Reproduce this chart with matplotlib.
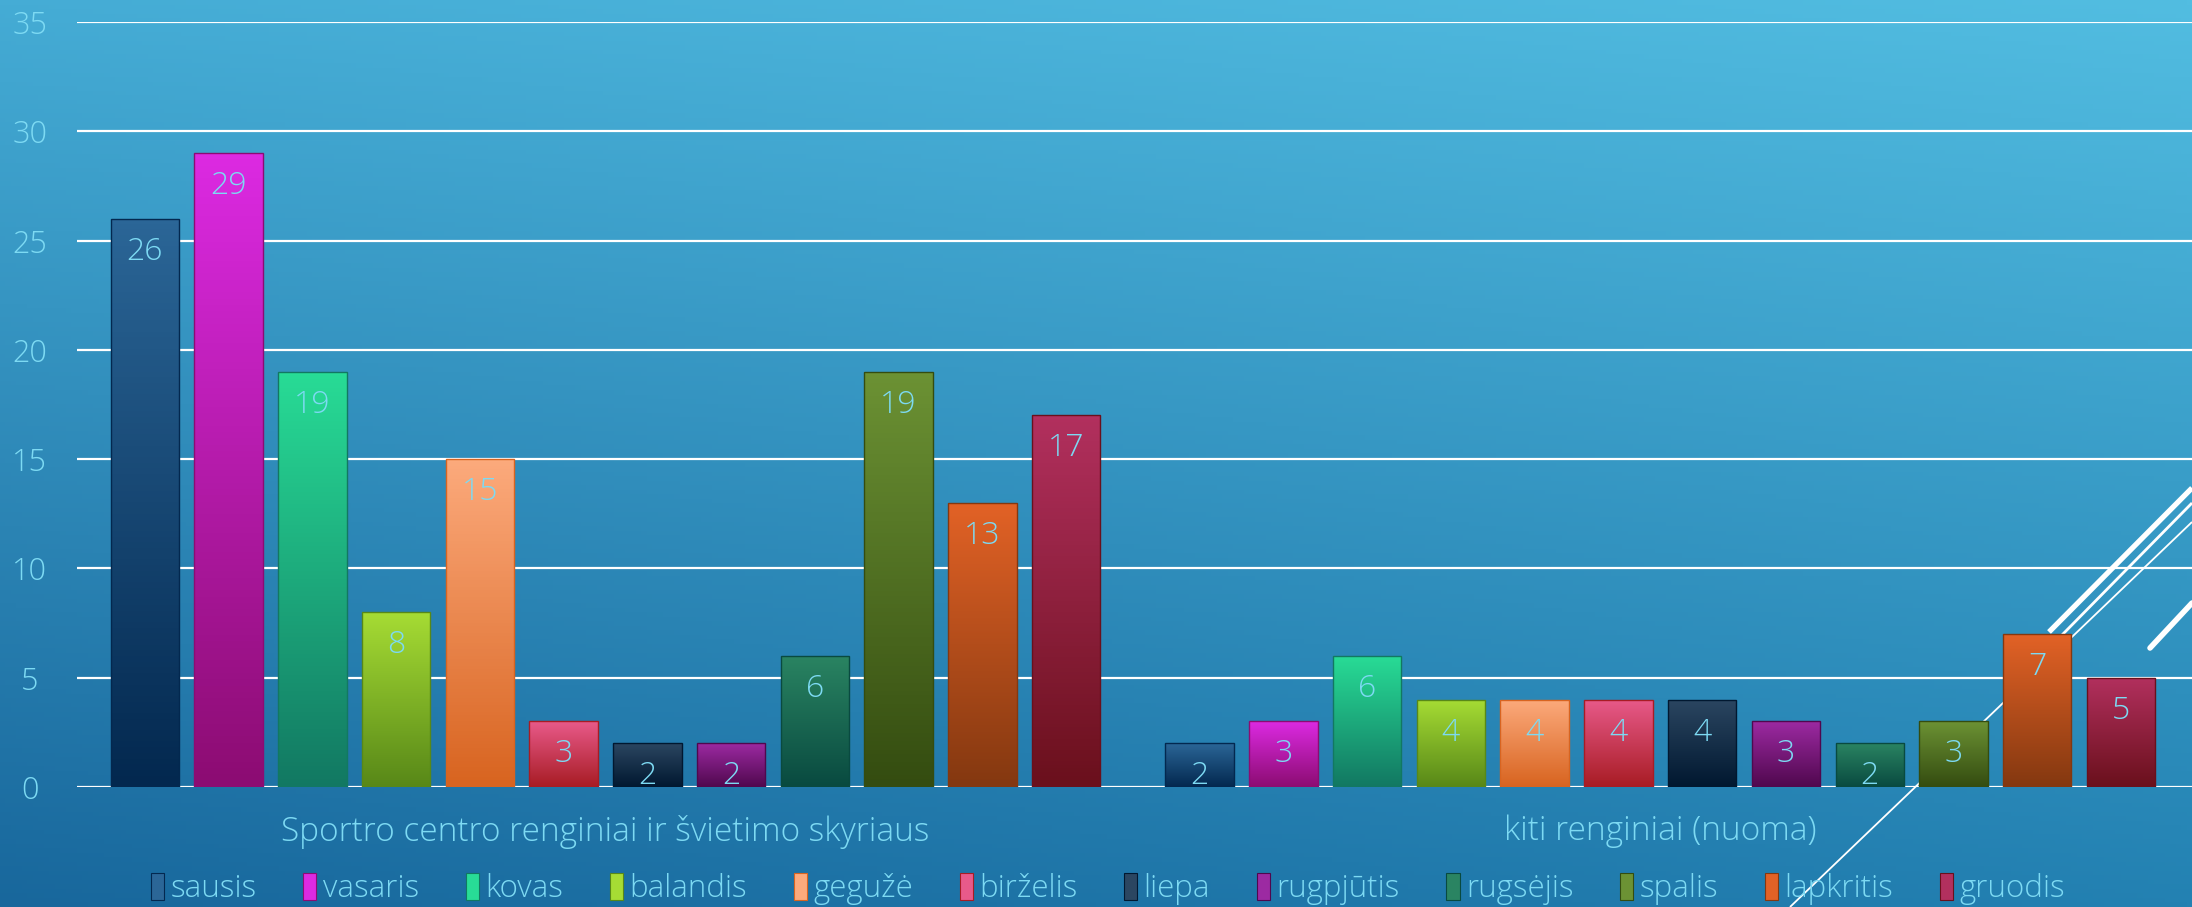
import numpy as np
import matplotlib
matplotlib.use('Agg')
import matplotlib.pyplot as plt
from matplotlib.colors import to_rgb
from matplotlib.patches import Patch

# duomenys
groups = ['Sportro centro renginiai ir švietimo skyriaus', 'kiti renginiai (nuoma)']
months = ['sausis', 'vasaris', 'kovas', 'balandis', 'gegužė', 'birželis',
          'liepa', 'rugpjūtis', 'rugsėjis', 'spalis', 'lapkritis', 'gruodis']
sportas = [26, 29, 19, 8, 15, 3, 2, 2, 6, 19, 13, 17]
nuoma = [2, 3, 6, 4, 4, 4, 4, 3, 2, 3, 7, 5]
y_ticks = [0, 5, 10, 15, 20, 25, 30, 35]

top_colors = ['#2b6697', '#dc2ae2', '#28dc96', '#a6dc34', '#fcaa7c', '#e85a8a',
              '#2b4661', '#9c2aa2', '#2a8462', '#6c9234', '#e26226', '#b2305e']
bottom_colors = ['#03284f', '#8c0c72', '#127862', '#588818', '#d86420', '#a81c24',
                 '#011830', '#50084e', '#094a40', '#344c10', '#843810', '#6a101c']

txt_color = '#7ddaf3'
W, H = 2192, 907
plt.rcParams['font.family'] = ['Open Sans', 'DejaVu Sans']
plt.rcParams['font.weight'] = 'light'

fig = plt.figure(figsize=(W / 100, H / 100), dpi=100)

# fonas - gradientas
bg = fig.add_axes([0, 0, 1, 1], zorder=-10)
tl, tr = np.array(to_rgb('#45acd5')), np.array(to_rgb('#52bde1'))
bl, br = np.array(to_rgb('#18679c')), np.array(to_rgb('#2381b2'))
yy, xx = np.mgrid[0:1:200j, 0:1:400j]
img = ((1 - yy)[..., None] * ((1 - xx)[..., None] * tl + xx[..., None] * tr)
       + yy[..., None] * ((1 - xx)[..., None] * bl + xx[..., None] * br))
bg.imshow(img, extent=[0, 1, 0, 1], aspect='auto', origin='upper')
bg.set_axis_off()

# pagrindinė ašis
ax = fig.add_axes([77 / W, (H - 787) / H, 1 - 77 / W, (787 - 22) / H])
ax.set_facecolor('none')
ax.set_xlim(-0.501, 1.504)
ax.set_ylim(0, 35)
for s in ax.spines.values():
    s.set_visible(False)
ax.set_yticks(y_ticks)
ax.yaxis.grid(True, color='white', linewidth=1.6, zorder=0)
ax.set_axisbelow(True)
ax.tick_params(axis='y', length=0, pad=34, labelsize=22, labelcolor=txt_color)
for lab in ax.get_yticklabels():
    lab.set_horizontalalignment('center')
ax.set_xticks([0, 1])
ax.set_xticklabels(groups)
ax.tick_params(axis='x', length=0, pad=20, labelsize=24, labelcolor=txt_color)

step = 0.0794
width = 0.0649
x = np.arange(len(groups))
values = np.array([sportas, nuoma])
grad = np.linspace(0, 1, 100)[:, None]
for i, m in enumerate(months):
    pos = x + (i - 5.5) * step
    bars = ax.bar(pos, values[:, i], width, facecolor='none',
                  edgecolor=bottom_colors[i], linewidth=1.0, zorder=3)
    c1 = np.array(to_rgb(top_colors[i]))
    c2 = np.array(to_rgb(bottom_colors[i]))
    cimg = (1 - grad)[..., None] * c1 + grad[..., None] * c2
    for b, v in zip(bars, values[:, i]):
        bx, by = b.get_x(), b.get_y()
        im = ax.imshow(cimg, extent=[bx, bx + b.get_width(), by, by + b.get_height()],
                       aspect='auto', origin='upper', zorder=2.5)
        im.set_clip_path(b)
        ax.annotate(str(v), (b.get_x() + b.get_width() / 2, v), xytext=(0, -33),
                    textcoords='offset pixels', ha='center', va='center',
                    fontsize=23, color=txt_color, zorder=4)

# dekoratyvinės linijos
def fline(p1, p2, lw, cap='butt'):
    ax.plot([p1[0] / W, p2[0] / W], [1 - p1[1] / H, 1 - p2[1] / H],
            transform=fig.transFigure, color='white', linewidth=lw,
            solid_capstyle=cap, clip_on=False, zorder=1)

fline((1790, 907), (2192, 522), 1.3)
fline((2049, 632), (2192, 488), 3.8)
fline((2062, 635), (2192, 503), 2.0)
fline((2150, 648), (2192, 603), 4.0, cap='round')

# legenda
handles = [Patch(facecolor=c, edgecolor=b, linewidth=0.8) for c, b in zip(top_colors, bottom_colors)]
fig.legend(handles, months, loc='center', bbox_to_anchor=(1108 / W, 1 - 889 / H),
           ncol=12, frameon=False, fontsize=22.5, labelcolor=txt_color,
           handlelength=0.42, handleheight=0.95, handletextpad=0.2, columnspacing=1.5)

fig.savefig('out.png', dpi=100)
